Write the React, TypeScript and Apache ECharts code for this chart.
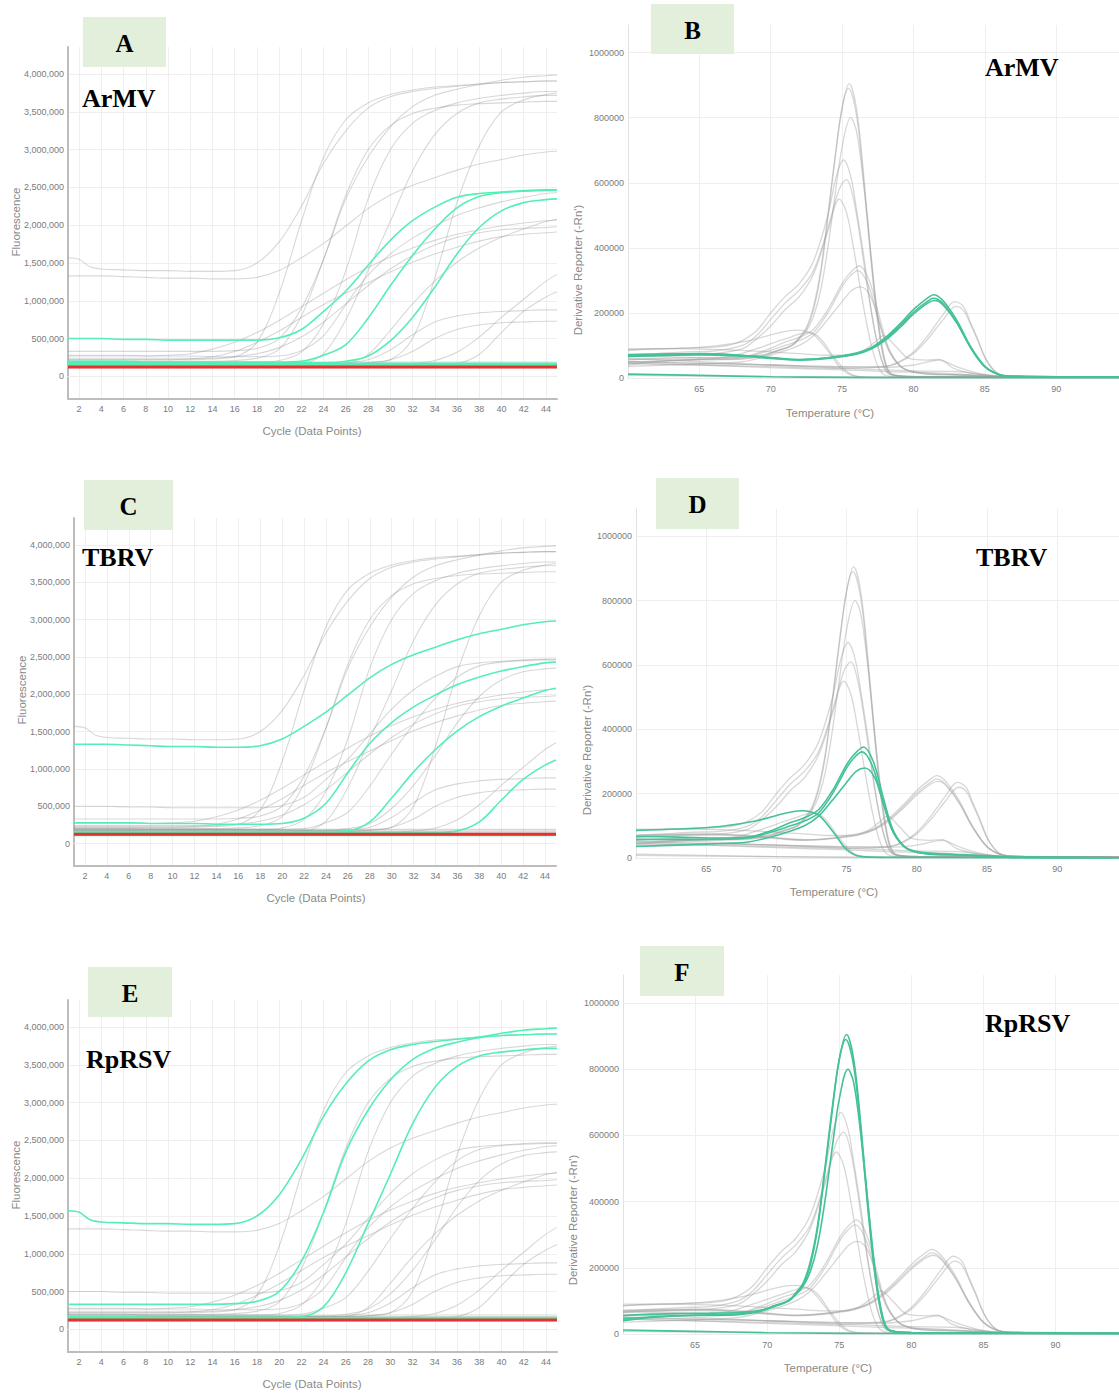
import React, { useEffect, useRef } from "react";
import * as echarts from "echarts";

// ---------- Amplification plots (values in millions) ----------
const AMP_X = [1, 2, 3, 4, 6, 8, 10, 12, 14, 16, 18, 20, 22, 24, 26, 28, 30, 32, 34, 36, 38, 40, 42, 44, 45];
const AMP_X_TICKS = [2, 4, 6, 8, 10, 12, 14, 16, 18, 20, 22, 24, 26, 28, 30, 32, 34, 36, 38, 40, 42, 44];
const AMP_Y_TICKS = [0, 500000, 1000000, 1500000, 2000000, 2500000, 3000000, 3500000, 4000000];

const AMP_A1 = [1.57, 1.55, 1.45, 1.42, 1.41, 1.40, 1.40, 1.39, 1.39, 1.40, 1.50, 1.78, 2.25, 2.82, 3.25, 3.55, 3.70, 3.77, 3.81, 3.84, 3.87, 3.92, 3.96, 3.98, 3.99];
const AMP_A2 = [0.33, 0.33, 0.33, 0.33, 0.33, 0.33, 0.33, 0.33, 0.33, 0.34, 0.37, 0.50, 0.90, 1.55, 2.35, 2.90, 3.30, 3.57, 3.72, 3.80, 3.86, 3.89, 3.90, 3.91, 3.91];
const AMP_A3 = [0.17, 0.17, 0.17, 0.17, 0.17, 0.16, 0.16, 0.16, 0.16, 0.16, 0.16, 0.16, 0.17, 0.30, 0.75, 1.40, 2.05, 2.72, 3.20, 3.48, 3.62, 3.67, 3.70, 3.72, 3.72];
const AMP_A4 = [1.33, 1.33, 1.33, 1.33, 1.32, 1.31, 1.30, 1.30, 1.29, 1.29, 1.31, 1.40, 1.57, 1.76, 1.99, 2.22, 2.40, 2.53, 2.63, 2.73, 2.81, 2.87, 2.93, 2.97, 2.98];
const AMP_A5 = [0.28, 0.28, 0.28, 0.28, 0.28, 0.27, 0.27, 0.27, 0.26, 0.26, 0.26, 0.27, 0.34, 0.54, 0.95, 1.34, 1.62, 1.83, 1.99, 2.13, 2.23, 2.31, 2.37, 2.42, 2.43];
const AMP_A6 = [0.16, 0.16, 0.16, 0.16, 0.16, 0.16, 0.16, 0.16, 0.16, 0.16, 0.16, 0.16, 0.16, 0.16, 0.17, 0.29, 0.61, 0.96, 1.26, 1.51, 1.70, 1.84, 1.95, 2.05, 2.08];
const AMP_A7 = [0.15, 0.15, 0.15, 0.15, 0.15, 0.15, 0.15, 0.15, 0.15, 0.15, 0.15, 0.15, 0.15, 0.15, 0.15, 0.15, 0.15, 0.15, 0.15, 0.17, 0.29, 0.58, 0.86, 1.05, 1.12];
const AMP_A8 = [0.50, 0.50, 0.50, 0.50, 0.49, 0.49, 0.48, 0.48, 0.48, 0.48, 0.48, 0.51, 0.62, 0.86, 1.13, 1.47, 1.80, 2.06, 2.24, 2.37, 2.42, 2.44, 2.46, 2.47, 2.47];
const AMP_A9 = [0.20, 0.20, 0.20, 0.20, 0.20, 0.19, 0.19, 0.19, 0.19, 0.19, 0.19, 0.19, 0.20, 0.28, 0.42, 0.77, 1.20, 1.60, 1.95, 2.23, 2.38, 2.43, 2.45, 2.46, 2.46];
const AMP_A10 = [0.18, 0.18, 0.18, 0.18, 0.18, 0.18, 0.18, 0.18, 0.18, 0.18, 0.18, 0.18, 0.18, 0.18, 0.20, 0.27, 0.47, 0.78, 1.18, 1.62, 1.97, 2.19, 2.30, 2.34, 2.35];
const AMP_G1 = [0.22, 0.22, 0.22, 0.22, 0.22, 0.22, 0.22, 0.22, 0.23, 0.26, 0.45, 1.10, 2.05, 2.90, 3.40, 3.62, 3.73, 3.79, 3.83, 3.85, 3.87, 3.89, 3.90, 3.91, 3.91];
const AMP_G2 = [0.27, 0.27, 0.27, 0.27, 0.27, 0.27, 0.28, 0.30, 0.36, 0.45, 0.58, 0.74, 0.92, 1.10, 1.28, 1.44, 1.58, 1.70, 1.80, 1.88, 1.94, 1.99, 2.03, 2.06, 2.07];
const AMP_G3 = [0.22, 0.22, 0.22, 0.22, 0.22, 0.22, 0.22, 0.23, 0.26, 0.33, 0.45, 0.60, 0.78, 0.95, 1.10, 1.24, 1.38, 1.51, 1.62, 1.71, 1.79, 1.85, 1.88, 1.90, 1.91];
const AMP_G4 = [0.24, 0.24, 0.24, 0.24, 0.24, 0.24, 0.24, 0.24, 0.24, 0.26, 0.30, 0.38, 0.52, 0.72, 0.96, 1.20, 1.42, 1.60, 1.74, 1.84, 1.90, 1.94, 1.96, 1.97, 1.98];
const AMP_G5 = [0.20, 0.20, 0.20, 0.20, 0.20, 0.20, 0.20, 0.20, 0.20, 0.21, 0.24, 0.36, 0.80, 1.55, 2.40, 3.00, 3.32, 3.48, 3.55, 3.59, 3.61, 3.62, 3.63, 3.64, 3.64];
const AMP_G6 = [0.19, 0.19, 0.19, 0.19, 0.19, 0.19, 0.19, 0.19, 0.19, 0.19, 0.19, 0.21, 0.32, 0.70, 1.40, 2.35, 3.00, 3.35, 3.52, 3.62, 3.68, 3.72, 3.75, 3.77, 3.77];
const AMP_G7 = [0.17, 0.17, 0.17, 0.17, 0.17, 0.17, 0.17, 0.17, 0.17, 0.17, 0.17, 0.17, 0.17, 0.17, 0.17, 0.18, 0.22, 0.50, 1.30, 2.30, 3.05, 3.50, 3.66, 3.73, 3.75];
const AMP_G8 = [0.17, 0.17, 0.17, 0.17, 0.17, 0.17, 0.17, 0.17, 0.17, 0.17, 0.17, 0.17, 0.17, 0.17, 0.18, 0.22, 0.35, 0.55, 0.72, 0.80, 0.84, 0.86, 0.87, 0.88, 0.88];
const AMP_G9 = [0.16, 0.16, 0.16, 0.16, 0.16, 0.16, 0.16, 0.16, 0.16, 0.16, 0.16, 0.16, 0.16, 0.16, 0.16, 0.18, 0.22, 0.33, 0.50, 0.62, 0.68, 0.71, 0.72, 0.73, 0.73];
const AMP_G10 = [0.15, 0.15, 0.15, 0.15, 0.15, 0.15, 0.15, 0.15, 0.15, 0.15, 0.15, 0.15, 0.15, 0.15, 0.15, 0.15, 0.15, 0.17, 0.21, 0.32, 0.52, 0.78, 1.02, 1.26, 1.35];

const FLAT_X = [1, 45];
const FLAT_LEVELS = [0.19, 0.17, 0.155, 0.14, 0.11];
const FLAT_IDS = ["f1", "f2", "f3", "f4", "f5"];
const RED_LEVEL = 0.125;

const AMP_CURVES = [
  { id: "a1", v: AMP_A1 }, { id: "a2", v: AMP_A2 }, { id: "a3", v: AMP_A3 }, { id: "a4", v: AMP_A4 },
  { id: "a5", v: AMP_A5 }, { id: "a6", v: AMP_A6 }, { id: "a7", v: AMP_A7 }, { id: "a8", v: AMP_A8 },
  { id: "a9", v: AMP_A9 }, { id: "a10", v: AMP_A10 }, { id: "g1", v: AMP_G1 }, { id: "g2", v: AMP_G2 },
  { id: "g3", v: AMP_G3 }, { id: "g4", v: AMP_G4 }, { id: "g5", v: AMP_G5 }, { id: "g6", v: AMP_G6 },
  { id: "g7", v: AMP_G7 }, { id: "g8", v: AMP_G8 }, { id: "g9", v: AMP_G9 }, { id: "g10", v: AMP_G10 },
];

// ---------- Melt curves: [temperature, derivative (millions)] ----------
const MELT_X_TICKS = [65, 70, 75, 80, 85, 90];
const MELT_Y_TICKS = [0, 200000, 400000, 600000, 800000, 1000000];

const M1 = [[60, .04], [62, .05], [64, .055], [66, .056], [68, .058], [69.5, .068], [70.5, .083], [71.5, .10], [72, .123], [72.5, .15], [73, .21], [73.5, .32], [74, .49], [74.5, .67], [75, .83], [75.5, .905], [76, .83], [76.5, .63], [77, .385], [77.5, .18], [78, .05], [78.5, .01], [80, .004], [85, .003], [94.4, .002]];
const M1B = [[60, .045], [62, .052], [64, .056], [66, .058], [68, .06], [69.5, .07], [70.5, .085], [71.5, .102], [72, .125], [72.5, .155], [73, .22], [73.5, .33], [74, .50], [74.5, .68], [75, .83], [75.45, .89], [76, .81], [76.5, .61], [77, .37], [77.5, .17], [78, .045], [78.5, .01], [80, .004], [85, .003], [94.4, .002]];
const M2 = [[60, .055], [62, .06], [64, .062], [66, .063], [68, .065], [69.5, .072], [70.5, .085], [71.5, .10], [72, .12], [72.5, .145], [73, .19], [73.5, .27], [74, .40], [74.5, .56], [75, .71], [75.6, .80], [76, .76], [76.5, .60], [77, .39], [77.5, .19], [78, .055], [78.5, .012], [80, .004], [85, .003], [94.4, .002]];
const M3 = [[60, .085], [62, .09], [64, .092], [66, .095], [67, .10], [68, .115], [69, .145], [70, .20], [71, .25], [72, .29], [73, .36], [74, .50], [74.6, .62], [75.1, .67], [75.6, .62], [76, .52], [76.5, .38], [77, .22], [77.5, .10], [78, .03], [78.5, .01], [80, .005], [94.4, .002]];
const M4 = [[60, .07], [62, .075], [64, .08], [66, .083], [68, .10], [69, .13], [70, .18], [71, .23], [72, .27], [73, .33], [74, .46], [74.8, .58], [75.3, .61], [75.8, .55], [76.3, .42], [76.8, .27], [77.3, .14], [77.8, .05], [78.3, .012], [80, .005], [94.4, .002]];
const M5 = [[60, .065], [62, .07], [64, .072], [66, .075], [68, .09], [69, .12], [70, .16], [71, .21], [72, .25], [73, .32], [74, .45], [74.8, .55], [75.3, .51], [75.8, .40], [76.3, .27], [76.8, .15], [77.3, .06], [77.8, .015], [78.5, .005], [94.4, .002]];
const M6 = [[60, .067], [63, .065], [66, .062], [68, .065], [69.6, .085], [71, .11], [72, .125], [73, .15], [74, .21], [74.5, .25], [75, .29], [75.5, .32], [76.2, .345], [76.9, .30], [77.6, .19], [78.3, .088], [79.1, .036], [79.8, .02], [81, .012], [83, .01], [85, .006], [87, .002], [94.4, .001]];
const M7 = [[60, .057], [63, .058], [66, .058], [68, .062], [69.6, .08], [71, .10], [72, .115], [73, .14], [74, .20], [74.5, .24], [75, .28], [75.5, .31], [76.1, .33], [76.8, .29], [77.5, .19], [78.2, .09], [79, .038], [79.8, .02], [81, .012], [83, .01], [85, .006], [87, .002], [94.4, .001]];
const M8 = [[60, .036], [63, .04], [66, .045], [68, .05], [70, .07], [72, .10], [73, .13], [74, .18], [75, .235], [75.7, .27], [76.3, .28], [77, .25], [77.6, .17], [78.3, .085], [79.1, .036], [80, .02], [82, .012], [85, .006], [87, .002], [94.4, .001]];
const M9 = [[60, .086], [63, .09], [66, .098], [68.4, .114], [70.7, .14], [71.8, .147], [72.5, .143], [73.1, .13], [74.1, .078], [75, .026], [76, .005], [78, .002], [94.4, .001]];
const M10 = [[60, .05], [64, .055], [67, .065], [69, .09], [71, .12], [72.7, .14], [73.5, .12], [74.5, .06], [75.5, .015], [76.5, .003], [94.4, .001]];
const M11 = [[60, .069], [65, .074], [68, .069], [70, .062], [72, .056], [74, .062], [76, .077], [77, .092], [78, .123], [79, .164], [80, .21], [81, .246], [81.4, .256], [82, .241], [83, .18], [84, .097], [85, .036], [86, .01], [87, .005], [94.4, .003]];
const M12 = [[60, .072], [65, .075], [68, .07], [70, .063], [72, .057], [74, .062], [76, .075], [77, .09], [78, .118], [79, .158], [80, .202], [81, .236], [81.4, .245], [82, .232], [83, .173], [84, .093], [85, .034], [86, .01], [87, .005], [94.4, .003]];
const M13 = [[60, .066], [65, .071], [68, .067], [70, .06], [72, .055], [74, .06], [76, .073], [77, .088], [78, .115], [79, .153], [80, .196], [81, .23], [81.5, .238], [82, .228], [83, .172], [84, .095], [85, .036], [86, .011], [87, .005], [94.4, .003]];
const M14 = [[60, .045], [65, .04], [70, .035], [75, .03], [78, .035], [79, .05], [80, .08], [81, .13], [82, .19], [82.9, .235], [83.5, .22], [84, .17], [84.5, .12], [85, .065], [85.5, .03], [86, .012], [87, .005], [94.4, .003]];
const M15 = [[60, .05], [65, .045], [70, .04], [75, .034], [78, .036], [79, .048], [80, .075], [81, .12], [82, .175], [83, .22], [83.5, .208], [84, .165], [84.5, .115], [85, .063], [85.5, .03], [86, .012], [87, .005], [94.4, .003]];
const M16 = [[60, .09], [63, .09], [66, .088], [68, .085], [70, .08], [72, .075], [74, .07], [75.5, .07], [76.5, .085], [77.3, .11], [77.9, .13], [78.7, .10], [79.7, .06], [81, .055], [81.8, .057], [82.8, .03], [84, .015], [86, .005], [94.4, .003]];
const M17 = [[60, .05], [65, .045], [70, .04], [75, .035], [78, .033], [80, .04], [81.8, .055], [83, .035], [84.5, .015], [86, .005], [94.4, .002]];
const M18 = [[60, .06], [65, .05], [70, .04], [75, .03], [78, .025], [80, .022], [83, .02], [85, .01], [87, .004], [94.4, .002]];
const M19 = [[60, .045], [65, .04], [70, .032], [75, .025], [78, .02], [82, .015], [85, .008], [94.4, .002]];
const M20 = [[60, .012], [65, .008], [70, .004], [75, .002], [80, .001], [94.4, .001]];
const M21 = [[60, .008], [65, .006], [70, .004], [75, .003], [80, .002], [94.4, .001]];

const MELT_CURVES = [
  { id: "m1", v: M1 }, { id: "m1b", v: M1B }, { id: "m2", v: M2 }, { id: "m3", v: M3 }, { id: "m4", v: M4 },
  { id: "m5", v: M5 }, { id: "m6", v: M6 }, { id: "m7", v: M7 }, { id: "m8", v: M8 }, { id: "m9", v: M9 },
  { id: "m10", v: M10 }, { id: "m11", v: M11 }, { id: "m12", v: M12 }, { id: "m13", v: M13 }, { id: "m14", v: M14 },
  { id: "m15", v: M15 }, { id: "m16", v: M16 }, { id: "m17", v: M17 }, { id: "m18", v: M18 }, { id: "m19", v: M19 },
  { id: "m20", v: M20 }, { id: "m21", v: M21 },
];

// ---------- Panels ----------
const PANEL_LETTERS = ["A", "B", "C", "D", "E", "F"];
const PANEL_VIRUS = ["ArMV", "ArMV", "TBRV", "TBRV", "RpRSV", "RpRSV"];
const PANEL_GREEN = [
  ["a8", "a9", "a10", "f2", "f3", "f4"],
  ["m11", "m12", "m13", "m20"],
  ["a4", "a5", "a6", "a7", "f5"],
  ["m6", "m7", "m8", "m9"],
  ["a1", "a2", "a3", "f3", "f4"],
  ["m1", "m1b", "m2", "m20"],
];
const PANEL_KIND = ["amp", "melt", "amp", "melt", "amp", "melt"];

// layout (pixels)
const GRIDS = [
  { left: 68, top: 47, width: 489, height: 352 },
  { left: 628, top: 25, width: 491, height: 353 },
  { left: 74, top: 518, width: 482, height: 348 },
  { left: 636, top: 509, width: 483, height: 349 },
  { left: 68, top: 1000, width: 489, height: 352 },
  { left: 623, top: 975, width: 496, height: 359 },
];
const BOXES = [
  { x: 83, y: 17, w: 83, h: 50 },
  { x: 651, y: 4, w: 83, h: 50 },
  { x: 84, y: 480, w: 89, h: 50 },
  { x: 656, y: 478, w: 83, h: 51 },
  { x: 88, y: 967, w: 84, h: 50 },
  { x: 640, y: 946, w: 84, h: 50 },
];
const VIRUS_POS = [[82, 98], [985, 67], [82, 557], [976, 557], [86, 1059], [985, 1023]];
const XTITLE_POS = [[312, 431], [830, 413], [316, 898], [834, 892], [312, 1384], [828, 1368]];
const YTITLE_POS = [[16, 222], [578, 270], [22, 690], [587, 750], [16, 1175], [573, 1220]];

const AMP_GREEN = "#55eeb5";
const MELT_GREEN = "#44c19a";
const AMP_GRAY = "rgba(140,140,140,0.34)";
const MELT_GRAY = "rgba(160,160,160,0.42)";
const RED = "#e5322e";
const LABEL_COLOR = "#7b7b7b";
const TITLE_COLOR = "#8a8a8a";

function buildOption() {
  const grid: any[] = [];
  const xAxis: any[] = [];
  const yAxis: any[] = [];
  const series: any[] = [];
  const graphic: any[] = [];

  GRIDS.forEach((g, i) => {
    grid.push({ left: g.left, top: g.top, width: g.width, height: g.height, containLabel: false });
    const isAmp = PANEL_KIND[i] === "amp";
    const xTicks = isAmp ? AMP_X_TICKS : MELT_X_TICKS;
    const yTicks = isAmp ? AMP_Y_TICKS : MELT_Y_TICKS;
    const axisColor = isAmp ? "#bdbdbd" : "#e2e2e2";
    xAxis.push({
      gridIndex: i, type: "value", position: "bottom",
      min: isAmp ? 1 : 60, max: isAmp ? 45 : 94.4,
      axisLine: { show: true, onZero: false, lineStyle: { color: axisColor, width: isAmp ? 2 : 1 } },
      axisTick: { show: false, customValues: xTicks },
      axisLabel: { customValues: xTicks, color: LABEL_COLOR, fontSize: 9, margin: isAmp ? 5 : 6, fontFamily: "Liberation Sans" },
      splitLine: { show: true, lineStyle: { color: "#efefef", width: 1 } },
    });
    xAxis.push({
      gridIndex: i, type: "value", position: "top",
      min: isAmp ? 1 : 60, max: isAmp ? 45 : 94.4,
      axisLine: { show: true, lineStyle: { color: "#ececec", width: 1 } },
      axisTick: { show: false }, axisLabel: { show: false }, splitLine: { show: false },
    });
    yAxis.push({
      gridIndex: i, type: "value",
      min: isAmp ? -300000 : 0, max: isAmp ? 4360000 : 1085000,
      axisLine: { show: true, lineStyle: { color: axisColor, width: isAmp ? 2 : 1 } },
      axisTick: { show: false, customValues: yTicks },
      axisLabel: {
        customValues: yTicks, color: LABEL_COLOR, fontSize: 9, margin: 4, fontFamily: "Liberation Sans",
        formatter: (v: number) => (isAmp ? v.toLocaleString("en-US") : String(v)),
      },
      splitLine: { show: true, lineStyle: { color: "#efefef", width: 1 } },
    });

    const green = PANEL_GREEN[i];
    const line = (data: any[], color: string, width: number, z: number) => ({
      type: "line", xAxisIndex: i * 2, yAxisIndex: i, data, symbol: "none", showSymbol: false,
      smooth: 0.35, silent: true, lineStyle: { color, width }, z, animation: false,
    });

    if (isAmp) {
      AMP_CURVES.forEach((c) => {
        if (!green.includes(c.id)) series.push(line(AMP_X.map((x, k) => [x, c.v[k] * 1e6]), AMP_GRAY, 1.1, 2));
      });
      FLAT_LEVELS.forEach((lv, k) => {
        if (!green.includes(FLAT_IDS[k])) series.push(line(FLAT_X.map((x) => [x, lv * 1e6]), AMP_GRAY, 1.1, 2));
      });
      AMP_CURVES.forEach((c) => {
        if (green.includes(c.id)) series.push(line(AMP_X.map((x, k) => [x, c.v[k] * 1e6]), AMP_GREEN, 1.6, 3));
      });
      FLAT_LEVELS.forEach((lv, k) => {
        if (green.includes(FLAT_IDS[k])) series.push(line(FLAT_X.map((x) => [x, lv * 1e6]), AMP_GREEN, 1.8, 3));
      });
      series.push(line(FLAT_X.map((x) => [x, RED_LEVEL * 1e6]), RED, 3, 4));
    } else {
      MELT_CURVES.forEach((c) => {
        if (!green.includes(c.id)) series.push(line(c.v.map((p) => [p[0], p[1] * 1e6]), MELT_GRAY, 1.3, 2));
      });
      MELT_CURVES.forEach((c) => {
        if (green.includes(c.id)) series.push(line(c.v.map((p) => [p[0], p[1] * 1e6]), MELT_GREEN, 1.6, 3));
      });
    }

    const b = BOXES[i];
    graphic.push({ type: "rect", shape: { x: b.x, y: b.y, width: b.w, height: b.h }, style: { fill: "#e2efda" }, z: 10 });
    graphic.push({
      type: "text", x: b.x + b.w / 2, y: b.y + b.h / 2 + 1, z: 11,
      style: { text: PANEL_LETTERS[i], fill: "#000", font: "bold 25px 'Liberation Serif'", align: "center", verticalAlign: "middle" },
    });
    const vp = VIRUS_POS[i];
    graphic.push({
      type: "text", x: vp[0], y: vp[1], z: 11,
      style: { text: PANEL_VIRUS[i], fill: "#000", font: "bold 26px 'Liberation Serif'", align: "left", verticalAlign: "middle" },
    });
    const xt = XTITLE_POS[i];
    graphic.push({
      type: "text", x: xt[0], y: xt[1], z: 11,
      style: { text: isAmp ? "Cycle (Data Points)" : "Temperature (°C)", fill: TITLE_COLOR, font: "11.5px 'Liberation Sans'", align: "center", verticalAlign: "middle" },
    });
    const yt = YTITLE_POS[i];
    graphic.push({
      type: "text", x: yt[0], y: yt[1], rotation: Math.PI / 2, z: 11,
      style: { text: isAmp ? "Fluorescence" : "Derivative Reporter (-Rn')", fill: TITLE_COLOR, font: "11.5px 'Liberation Sans'", align: "center", verticalAlign: "middle" },
    });
  });

  return { animation: false, backgroundColor: "#ffffff", grid, xAxis, yAxis, series, graphic };
}

export default function App() {
  const ref = useRef<HTMLDivElement>(null);
  useEffect(() => {
    document.body.style.margin = "0";
    const chart = echarts.init(ref.current!, null, { renderer: "svg", width: 1119, height: 1393 });
    chart.setOption(buildOption() as any);
    return () => chart.dispose();
  }, []);
  return <div ref={ref} style={{ width: 1119, height: 1393 }} />;
}
